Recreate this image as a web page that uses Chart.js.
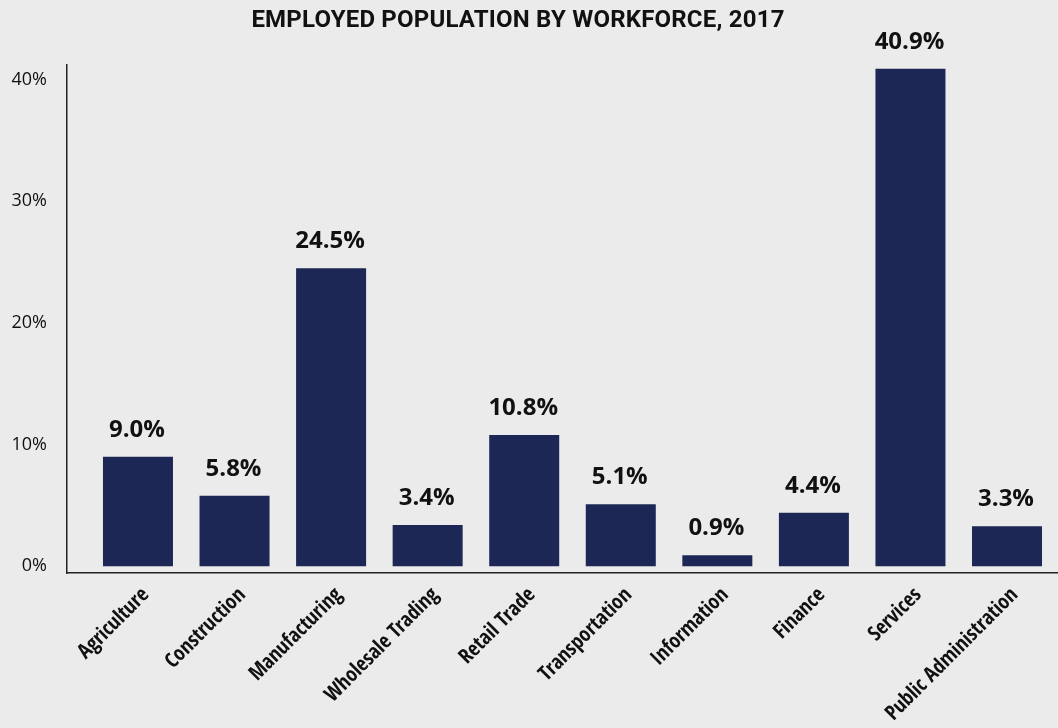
<!DOCTYPE html>
<html>
<head>
<meta charset="utf-8">
<script src="https://cdn.jsdelivr.net/npm/chart.js@4"></script>
<style>
  html, body { margin: 0; padding: 0; background: #ebebeb; }
  #wrap { width: 1058px; height: 728px; }
</style>
</head>
<body>
<div id="wrap"><canvas id="myChartWorkforce"></canvas></div>
<script>
const titulo = 'EMPLOYED POPULATION BY WORKFORCE, 2017'
const sectores = ['Agriculture', 'Construction', 'Manufacturing', 'Wholesale Trading', 'Retail Trade',
    'Transportation', 'Information', 'Finance', 'Services', 'Public Administration']
const porcentajes = [9.0, 5.8, 24.5, 3.4, 10.8, 5.1, 0.9, 4.4, 40.9, 3.3]
const ticksY = [0, 10, 20, 30, 40]

const colorBarra = '#1c2755'

// titulo dibujado a mano para poder ajustar el espaciado de letras
const tituloGrafico = {
    id: 'tituloGrafico',
    afterDraw(chart) {
        const ctx = chart.ctx
        ctx.save()
        ctx.font = 'bold 24px Roboto'
        ctx.letterSpacing = '0.2px'
        ctx.fillStyle = '#111'
        ctx.textAlign = 'center'
        ctx.textBaseline = 'alphabetic'
        ctx.fillText(titulo, chart.width / 2 - 11, 27)
        ctx.restore()
    }
}

// etiquetas con el valor encima de cada barra
const etiquetasValor = {
    id: 'etiquetasValor',
    afterDatasetsDraw(chart) {
        const ctx = chart.ctx
        const meta = chart.getDatasetMeta(0)
        ctx.save()
        ctx.font = 'bold 24px "Open Sans"'
        ctx.fillStyle = '#111'
        ctx.textAlign = 'center'
        ctx.textBaseline = 'alphabetic'
        meta.data.forEach((bar, i) => {
            ctx.fillText(porcentajes[i].toFixed(1) + '%', bar.x - 1, bar.y - 20)
        })
        ctx.restore()
    }
}

const renderChartWorkforce = () => {
    const data = {
        datasets: [{
            data: porcentajes.map((v, i) => ({x: i, y: v})),
            backgroundColor: colorBarra,
            borderWidth: 0,
            categoryPercentage: 1,
            barPercentage: 0.725
        }]
    }
    const options = {
        responsive: true,
        maintainAspectRatio: false,
        animation: false,
        layout: {padding: {left: 10, right: 0, top: 65, bottom: 0}},
        plugins: {
            legend: {display: false},
            tooltip: {enabled: false},
            title: {display: false}
        },
        scales: {
            x: {
                type: 'linear',
                offset: false,
                min: -0.735,
                max: 9.528,
                grid: {display: false, drawTicks: false},
                border: {display: true, color: '#222', width: 1.5},
                afterBuildTicks: axis => {
                    axis.ticks = sectores.map((s, i) => ({value: i}))
                },
                afterFit: axis => {
                    axis.height = 155
                    axis.paddingLeft = 0
                    axis.paddingRight = 0
                },
                ticks: {
                    autoSkip: false,
                    minRotation: 45,
                    maxRotation: 45,
                    padding: 10,
                    labelOffset: 8,
                    color: '#111',
                    font: {family: '"Open Sans Condensed"', size: 21, weight: 'bold'},
                    callback: v => sectores[v]
                }
            },
            y: {
                min: -0.55,
                max: 41.2,
                grid: {display: false, drawTicks: false},
                border: {display: true, color: '#222', width: 1.5},
                afterBuildTicks: axis => {
                    axis.ticks = ticksY.map(v => ({value: v}))
                },
                afterFit: axis => {
                    axis.width = 57
                },
                ticks: {
                    padding: 20,
                    color: '#111',
                    font: {family: '"Open Sans"', size: 18},
                    callback: v => v + '%'
                }
            }
        }
    }
    new Chart('myChartWorkforce', {type: 'bar', data, options, plugins: [etiquetasValor, tituloGrafico]})
}

renderChartWorkforce()
</script>
</body>
</html>
